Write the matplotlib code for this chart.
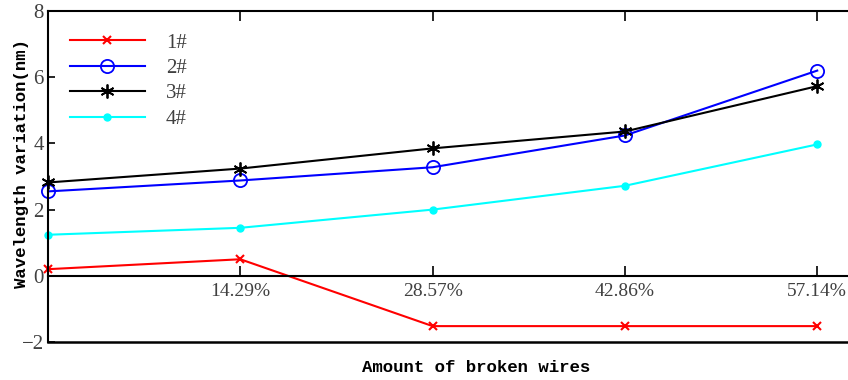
import matplotlib.pyplot as plt
import numpy as np

# broken wire ratio on the x axis (first point has no label)
tick_labels = ["", "14.29%", "28.57%", "42.86%", "57.14%"]

# wavelength variation (nm) for each grating
fbg1 = [0.2, 0.5, -1.52, -1.52, -1.52]
fbg2 = [2.55, 2.88, 3.28, 4.24, 6.2]
fbg3 = [2.82, 3.24, 3.85, 4.36, 5.73]
fbg4 = [1.24, 1.45, 2.0, 2.72, 3.97]

x = np.arange(len(tick_labels))
gray = "#404040"
asterisk = (6, 2, 0)

fig = plt.figure(figsize=(8.48, 3.8), dpi=100)
ax = fig.add_axes([0.0566, 0.1, 0.9434, 0.871])

ax.plot(x, fbg1, color="red", lw=1.5, marker="x", ms=6, mew=1.5, label="1#", clip_on=False)
ax.plot(x, fbg2, color="blue", lw=1.5, marker="o", ms=9.5, mfc="none", mew=1.3, label="2#", clip_on=False)
ax.plot(x, fbg3, color="black", lw=1.5, marker=asterisk, ms=10, mew=1.3, label="3#", clip_on=False)
ax.plot(x, fbg4, color="cyan", lw=1.5, marker="o", ms=5, label="4#", clip_on=False)

ax.set_xlim(0, 4.16)
ax.set_ylim(-2, 8)

# x axis runs through y = 0, box closed at the bottom by hand
ax.spines["bottom"].set_position(("data", 0))
ax.spines["right"].set_visible(False)
for s in ax.spines.values():
    s.set_linewidth(1.5)
ax.axhline(-2, color="black", lw=1.8, clip_on=False)

ax.set_xticks(x)
ax.set_xticklabels(tick_labels)
ax.set_yticks([-2, 0, 2, 4, 6, 8])
ax.tick_params(axis="x", direction="in", top=True, length=7, width=1.2,
               labelsize=14, labelcolor=gray, pad=5)
ax.tick_params(axis="y", direction="in", length=5, width=1.2,
               labelsize=15, labelcolor=gray, pad=3)
for lab in ax.get_xticklabels() + ax.get_yticklabels():
    lab.set_family("Liberation Serif")

ax.set_ylabel("Wavelength variation(nm)", family="Liberation Mono",
              fontweight="bold", fontsize=12.5)
ax.yaxis.set_label_coords(-0.024, 0.54)
ax.set_xlabel("Amount of broken wires", family="Liberation Mono",
              fontweight="bold", fontsize=12.5)
ax.xaxis.set_label_coords(0.535, -0.055)

leg = ax.legend(loc="upper left", bbox_to_anchor=(0.004, 0.99), frameon=False,
                handlelength=3.6, handletextpad=1.0, labelspacing=0.28,
                prop={"family": "Liberation Serif", "size": 15})
for t in leg.get_texts():
    t.set_color(gray)

fig.savefig("out.png", dpi=100)
